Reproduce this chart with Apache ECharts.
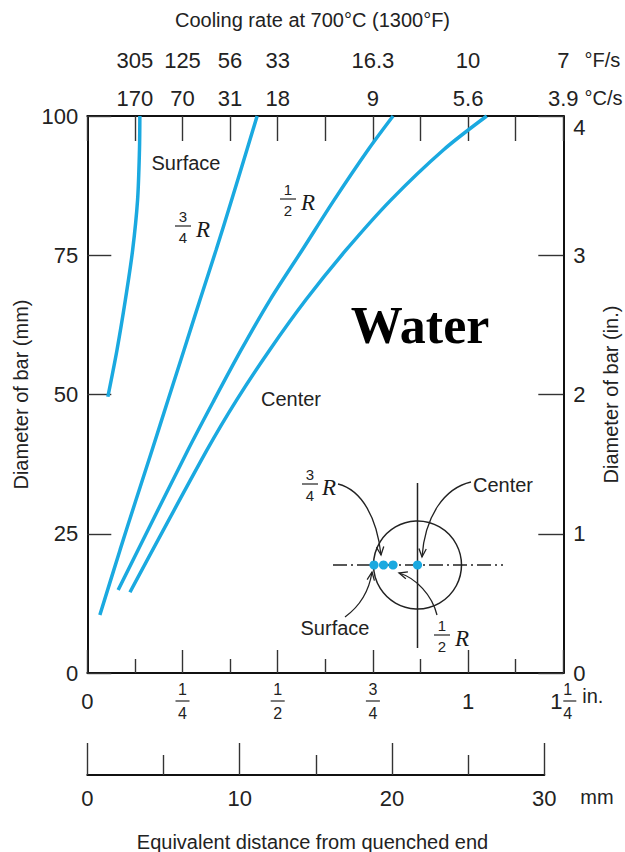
<!DOCTYPE html>
<html><head><meta charset="utf-8">
<script src="https://cdn.jsdelivr.net/npm/echarts@6/dist/echarts.min.js"></script>
<style>html,body{margin:0;padding:0;background:#fff}#c{width:625px;height:852px}</style>
</head><body><div id="c"></div>
<script>
// x: equivalent distance from quenched end (in.), y: diameter of bar (mm)
const surface = [[0.054,49.6],[0.078,58.0],[0.100,67.0],[0.119,75.9],[0.132,84.9],[0.137,93.9],[0.138,100]];
const threeQuarterR = [[0.033,10.4],[0.086,22.1],[0.128,31.1],[0.170,40.0],[0.212,49.0],[0.254,58.0],[0.296,67.0],[0.338,75.9],[0.379,84.9],[0.419,93.9],[0.446,100]];
const halfR = [[0.081,14.9],[0.264,40.0],[0.333,49.0],[0.404,58.0],[0.480,67.0],[0.564,75.9],[0.648,84.9],[0.737,93.9],[0.803,100]];
const center = [[0.112,14.5],[0.314,40.0],[0.392,49.0],[0.479,58.0],[0.574,67.0],[0.679,75.9],[0.797,84.9],[0.935,93.9],[1.049,100]];

// top axis: cooling rate at 700°C
const rateAt = [0.125,0.25,0.375,0.5,0.75,1.0,1.25];
const rateF = ['305','125','56','33','16.3','10','7'];
const rateC = ['170','70','31','18','9','5.6','3.9'];
// bottom inch axis labels
const inchAt = [0,0.25,0.5,0.75,1,1.25];
const inchWhole = ['0','','','','1','1'];
const inchNum = ['','1','1','3','','1'];
const inchDen = ['','4','2','4','','4'];
// mm axis
const mmTicks = [0,10,20,30];
const mmLabels = ['0','10','20','30'];

const SANS = "'Liberation Sans', Arial, sans-serif";
const SERIF = "'Liberation Serif', 'Times New Roman', serif";
const TXT = '#222';
const BLUE = '#1aa9e0';
const AX = '#111';

function idx(arr, v){ return arr.findIndex(t => Math.abs(t - v) < 1e-6); }

const chart = echarts.init(document.getElementById('c'), null, {renderer:'svg'});

function mkSeries(name, data){
  return {name, type:'line', data, xAxisIndex:0, yAxisIndex:0, smooth:0.3, symbol:'none',
    lineStyle:{color:BLUE, width:3.5}, silent:true, z:3};
}

// graphic helpers (annotations / inset illustration)
function txt(x,y,s,o){ return {type:'text', x, y, silent:true, style:Object.assign({text:s, fill:TXT, font:'20px '+SANS, align:'center', verticalAlign:'middle'}, o||{})}; }
function seg(x1,y1,x2,y2,o){ return {type:'line', silent:true, shape:{x1,y1,x2,y2}, style:Object.assign({stroke:TXT, lineWidth:1.3}, o||{})}; }
function frac(x,y,n,d,rx){
  return [txt(x,y-10,n,{font:'15px '+SANS}), seg(x-8,y,x+8,y,{lineWidth:1.2}), txt(x,y+11,d,{font:'15px '+SANS}),
    txt(rx,y+3,'R',{font:'italic 23px '+SERIF, fill:'#1a1a1a'})];
}
function arrow(x0,y0,c1x,c1y,c2x,c2y,x1,y1){
  const dx=x1-c2x, dy=y1-c2y, L=Math.hypot(dx,dy), ux=dx/L, uy=dy/L, a=0.42, s=9;
  const w1=[x1-s*(ux*Math.cos(a)-uy*Math.sin(a)), y1-s*(uy*Math.cos(a)+ux*Math.sin(a))];
  const w2=[x1-s*(ux*Math.cos(a)+uy*Math.sin(a)), y1-s*(uy*Math.cos(a)-ux*Math.sin(a))];
  return [{type:'bezierCurve', silent:true, shape:{x1:x0,y1:y0,cpx1:c1x,cpy1:c1y,cpx2:c2x,cpy2:c2y,x2:x1,y2:y1}, style:{stroke:TXT, fill:null, lineWidth:1.3}},
    {type:'polyline', silent:true, shape:{points:[w1,[x1,y1],w2]}, style:{stroke:TXT, fill:null, lineWidth:1.3}}];
}

const inset = [].concat(
  [{type:'circle', silent:true, shape:{cx:417.5, cy:565, r:44}, style:{stroke:TXT, fill:null, lineWidth:1.5}},
   seg(417.5,483,417.5,648,{lineWidth:1.5}),
   seg(333,565,503,565,{lineWidth:1.5, lineDash:[14,4,2,4]})],
  [374,383.5,393,417.5].map(cx => ({type:'circle', silent:true, z:10, shape:{cx, cy:565, r:4.6}, style:{fill:BLUE}})),
  frac(310,484,'3','4',329),
  frac(442,635,'1','2',462),
  [txt(473,485,'Center',{align:'left'}), txt(335,628,'Surface')],
  arrow(338,484, 362,490, 377,518, 381,555),
  arrow(471,482, 445,488, 425,515, 422,557),
  arrow(345,617, 360,606, 369,592, 372,572),
  arrow(437,615, 432,595, 416,578, 399,573)
);

const graphics = [].concat(
  [txt(186,163,'Surface'), txt(291,399,'Center'),
   txt(420,325,'Water',{font:'bold 52px '+SERIF, fill:'#000'})],
  frac(183,226,'3','4',203),
  frac(288,199,'1','2',308),
  inset
);

const tickStyle = {color:'#333', width:1.4};

chart.setOption({
  animation:false,
  backgroundColor:'#fff',
  textStyle:{fontFamily:SANS},
  title:[
    {text:'Cooling rate at 700°C (1300°F)', left:'center', top:5, textStyle:{fontFamily:SANS, fontSize:20, fontWeight:'normal', color:TXT}},
    {text:'Equivalent distance from quenched end', left:'center', top:827, textStyle:{fontFamily:SANS, fontSize:20, fontWeight:'normal', color:TXT}}
  ],
  grid:[
    {left:87.3, right:61.7, top:116, bottom:179, show:false, containLabel:false, outerBoundsMode:'none'},
    {left:87.3, width:457, top:774, height:1, show:false, containLabel:false, outerBoundsMode:'none'}
  ],
  xAxis:[
    { // bottom inches
      type:'value', gridIndex:0, position:'bottom', min:0, max:1.25, interval:0.25,
      axisLine:{show:true, onZero:false, lineStyle:{color:AX, width:2}},
      axisTick:{show:true, inside:true, length:23, lineStyle:tickStyle},
      minorTick:{show:true, splitNumber:2, length:14, lineStyle:tickStyle},
      splitLine:{show:false},
      name:'in.', nameLocation:'end', nameGap:17,
      nameTextStyle:{fontFamily:SANS, fontSize:20, color:TXT, verticalAlign:'top', padding:[13,0,0,0]},
      axisLabel:{show:true, margin:6, showMinLabel:true, showMaxLabel:true, color:TXT,
        formatter:function(v){
          const i = idx(inchAt, v); if (i < 0) return '';
          if (i === inchAt.length-1) return '{s|}{n2|'+inchNum[i]+'}\n{b|'+inchWhole[i]+'}{l2|}\n{s|}{d2|'+inchDen[i]+'}';
          if (inchWhole[i]) return '{z|'+inchWhole[i]+'}';
          return '{n|'+inchNum[i]+'}\n{l|}\n{d|'+inchDen[i]+'}';
        },
        rich:{
          z:{fontFamily:SANS, fontSize:22, lineHeight:44, color:TXT},
          n:{fontFamily:SANS, fontSize:16, lineHeight:20, color:TXT},
          d:{fontFamily:SANS, fontSize:16, lineHeight:20, color:TXT},
          l:{width:14, height:1.3, lineHeight:4, backgroundColor:'#333'},
          s:{width:13, lineHeight:20, align:'left'},
          n2:{fontFamily:SANS, fontSize:16, lineHeight:20, width:13, align:'left', color:TXT},
          d2:{fontFamily:SANS, fontSize:16, lineHeight:20, width:13, align:'left', color:TXT},
          b:{fontFamily:SANS, fontSize:22, lineHeight:4, width:13, align:'left', color:TXT},
          l2:{width:13, height:1.3, lineHeight:4, align:'left', backgroundColor:'#333'}
        }
      }
    },
    { // top cooling-rate axis
      type:'value', gridIndex:0, position:'top', min:0, max:1.25, interval:0.125,
      axisLine:{show:true, onZero:false, lineStyle:{color:AX, width:2}},
      axisTick:{show:true, inside:true, length:25, lineStyle:tickStyle},
      splitLine:{show:false},
      name:'{uf|°F/s}\n{uc|°C/s}', nameLocation:'end', nameGap:17,
      nameTextStyle:{verticalAlign:'bottom', padding:[0,0,5,0],
        rich:{uf:{fontFamily:SANS, fontSize:20, lineHeight:50, color:TXT}, uc:{fontFamily:SANS, fontSize:20, lineHeight:26, color:TXT}}},
      axisLabel:{show:true, margin:5, showMinLabel:true, showMaxLabel:true,
        formatter:function(v){ const i = idx(rateAt, v); return i < 0 ? '' : '{f|'+rateF[i]+'}\n{c|'+rateC[i]+'}'; },
        rich:{f:{fontFamily:SANS, fontSize:22, lineHeight:50, color:TXT}, c:{fontFamily:SANS, fontSize:22, lineHeight:26, color:TXT}}
      }
    },
    { // mm scale
      type:'value', gridIndex:1, position:'bottom', min:0, max:30, interval:10,
      axisLine:{show:true, onZero:false, lineStyle:{color:AX, width:2}},
      axisTick:{show:true, inside:true, length:32, lineStyle:tickStyle},
      minorTick:{show:true, splitNumber:2, length:20, lineStyle:tickStyle},
      splitLine:{show:false},
      name:'mm', nameLocation:'end', nameGap:36,
      nameTextStyle:{fontFamily:SANS, fontSize:20, color:TXT, verticalAlign:'top', padding:[12,0,0,0]},
      axisLabel:{margin:12, fontFamily:SANS, fontSize:22, color:TXT, showMinLabel:true, showMaxLabel:true,
        formatter:function(v){ const i = idx(mmTicks, v); return i < 0 ? '' : mmLabels[i]; }}
    }
  ],
  yAxis:[
    {
      type:'value', gridIndex:0, position:'left', min:0, max:100, interval:25,
      axisLine:{show:true, onZero:false, lineStyle:{color:AX, width:2}},
      axisTick:{show:true, inside:true, length:24, lineStyle:tickStyle},
      splitLine:{show:false},
      axisLabel:{margin:9, fontFamily:SANS, fontSize:22, color:TXT},
      name:'Diameter of bar (mm)', nameLocation:'middle', nameGap:55,
      nameTextStyle:{fontFamily:SANS, fontSize:20, color:TXT}
    },
    {
      type:'value', gridIndex:0, position:'right', min:0, max:4, interval:1,
      axisLine:{show:true, onZero:false, lineStyle:{color:AX, width:2}},
      axisTick:{show:true, inside:true, length:25, lineStyle:tickStyle},
      splitLine:{show:false},
      axisLabel:{margin:10, fontFamily:SANS, fontSize:22, color:TXT,
        formatter:function(v){ return v === 4 ? '{t|4}' : String(v); },
        rich:{t:{fontFamily:SANS, fontSize:22, color:TXT, padding:[22,0,0,0]}}},
      name:'Diameter of bar (in.)', nameLocation:'middle', nameGap:38,
      nameTextStyle:{fontFamily:SANS, fontSize:20, color:TXT}
    },
    {type:'value', gridIndex:1, min:0, max:1, show:false}
  ],
  series:[
    mkSeries('Surface', surface),
    mkSeries('3/4 R', threeQuarterR),
    mkSeries('1/2 R', halfR),
    mkSeries('Center', center)
  ],
  graphic:graphics
});
</script></body></html>
